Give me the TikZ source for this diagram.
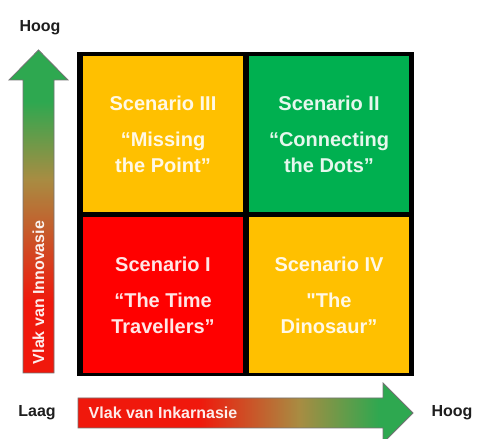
\documentclass[tikz,border=0pt]{standalone}
\usepackage{fontspec}
\setmainfont{Liberation Sans}
\definecolor{cyel}{RGB}{255,192,0}
\definecolor{cgrn}{RGB}{0,176,80}
\definecolor{cred}{RGB}{255,0,0}
\definecolor{agrn}{RGB}{46,168,80}
\definecolor{ared}{RGB}{240,24,12}
\definecolor{aolv}{RGB}{168,140,66}
\definecolor{txtdark}{RGB}{30,30,30}
\pgfdeclarehorizontalshading{hshade}{100bp}{color(0bp)=(ared); color(43bp)=(ared); color(58bp)=(aolv); color(70bp)=(agrn); color(100bp)=(agrn)}
\pgfdeclareverticalshading{vshade}{100bp}{color(0bp)=(ared); color(36bp)=(ared); color(55bp)=(aolv); color(67bp)=(agrn); color(100bp)=(agrn)}
\tikzset{
  cell/.style={rectangle, draw=none, minimum width=160pt, minimum height=156pt, inner sep=2pt,
    align=center, text=white, text opacity=0.9, font=\bfseries\fontsize{20}{26}\selectfont},
  arrowtxt/.style={text=white, text opacity=0.92, font=\bfseries\fontsize{16}{19}\selectfont, inner sep=0pt},
  axislbl/.style={text=txtdark, font=\bfseries\fontsize{16}{19}\selectfont, inner sep=0pt},
  arrowline/.style={draw=black!55, line width=0.8pt}
}
\begin{document}
\begin{tikzpicture}[x=1pt,y=1pt]
\useasboundingbox (0,0) rectangle (482,439);
% grid frame
\fill[black] (77,63) rectangle (414,387);
\node[cell, fill=cyel] (s3) at (163,305) {Scenario III\\[10pt]“Missing\\the Point”};
\node[cell, fill=cgrn] (s2) at (329,305) {Scenario II\\[10pt]“Connecting\\the Dots”};
\node[cell, fill=cred] (s1) at (163,144) {Scenario I\\[10pt]“The Time\\Travellers”};
\node[cell, fill=cyel] (s4) at (329,144) {Scenario IV\\[10pt]\textquotedbl The\\Dinosaur”};
% vertical arrow
\path[arrowline, shading=vshade]
  (23,66) -- (23,359) -- (9,359) -- (38.5,389) -- (68,359) -- (54,359) -- (54,66) -- cycle;
\node[arrowtxt, rotate=90] (vtxt) at (38.5,146.5) {Vlak van Innovasie};
% horizontal arrow
\path[arrowline, shading=hshade]
  (78,11) -- (383,11) -- (383,-4) -- (413,26) -- (383,56) -- (383,41) -- (78,41) -- cycle;
\node[arrowtxt] (htxt) at (163,26) {Vlak van Inkarnasie};
% axis labels
\node[axislbl] (hoogtop) at (40,411) {Hoog};
\node[axislbl] (laag) at (37,26) {Laag};
\node[axislbl] (hoogright) at (452,26) {Hoog};
\end{tikzpicture}
\end{document}
